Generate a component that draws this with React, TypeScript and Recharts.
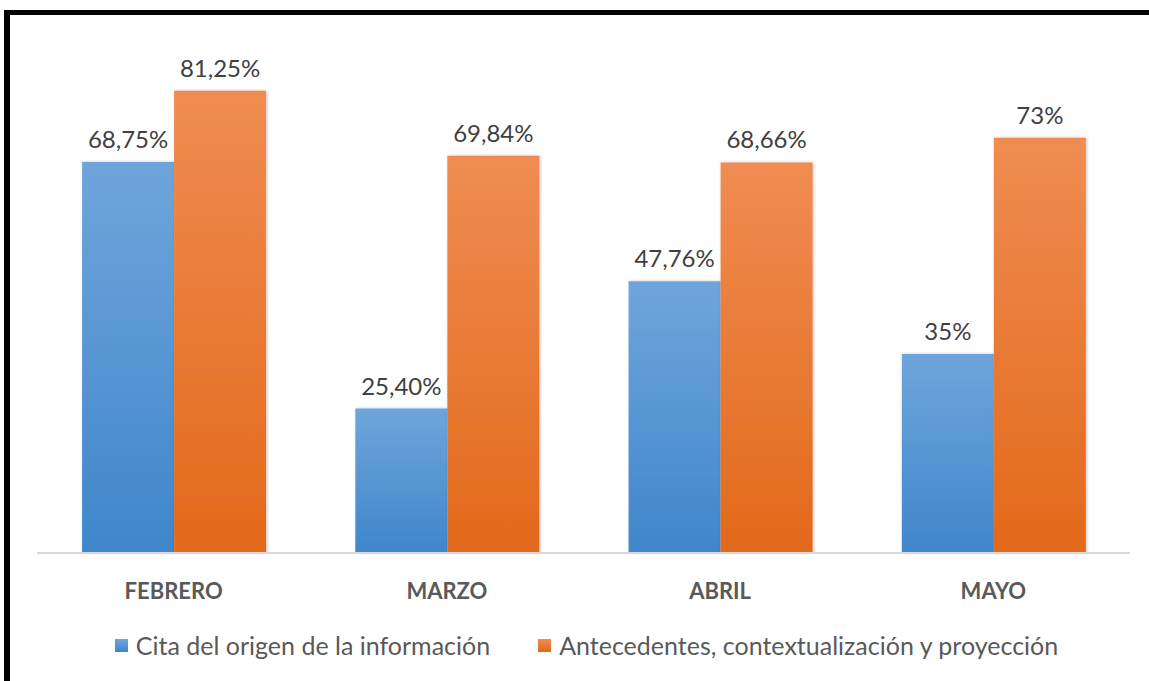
import React from 'react';
import { BarChart, Bar, XAxis, YAxis, LabelList } from 'recharts';

const months = ['FEBRERO', 'MARZO', 'ABRIL', 'MAYO'];
const citaValues = [68.75, 25.4, 47.76, 35];
const antecedentesValues = [81.25, 69.84, 68.66, 73];
const citaLabels = ['68,75%', '25,40%', '47,76%', '35%'];
const antecedentesLabels = ['81,25%', '69,84%', '68,66%', '73%'];
const seriesNames = ['Cita del origen de la información', 'Antecedentes, contextualización y proyección'];

const data = months.map((m, i) => ({
  month: m,
  cita: citaValues[i],
  antecedentes: antecedentesValues[i],
  citaLabel: citaLabels[i],
  antecedentesLabel: antecedentesLabels[i],
}));

const FONT = 'Lato, "Open Sans", sans-serif';

// Legend drawn as plain html below the chart
function ChartLegend() {
  const items = [
    { name: seriesNames[0], from: '#6fa5db', to: '#3f86cb' },
    { name: seriesNames[1], from: '#f08c52', to: '#e2691a' },
  ];
  return (
    <div style={{ display: 'flex', justifyContent: 'center', gap: 48, fontFamily: FONT, fontSize: 25, color: '#595959', lineHeight: '30px' }}>
      {items.map((it) => (
        <div key={it.name} style={{ display: 'flex', alignItems: 'center' }}>
          <span style={{ display: 'inline-block', width: 13, height: 13, marginRight: 8, background: `linear-gradient(${it.from}, ${it.to})` }} />
          <span>{it.name}</span>
        </div>
      ))}
    </div>
  );
}

export default function App() {
  return (
    <div style={{ position: 'fixed', left: 0, top: 0, width: 1149, height: 681, background: '#fff', overflow: 'hidden' }}>
      {/* frame, only top and left edges show */}
      <div style={{ position: 'absolute', left: 4, top: 10, width: 1200, height: 720, borderTop: '5px solid #000', borderLeft: '6px solid #000' }} />
      <div style={{ position: 'absolute', left: 0, top: 0 }}>
        <BarChart
          width={1149}
          height={681}
          data={data}
          margin={{ top: 41, right: 19, bottom: 68, left: 37 }}
          barCategoryGap="16.5%"
          barGap={0}
        >
          <defs>
            <linearGradient id="blueGrad" x1="0" y1="0" x2="0" y2="1">
              <stop offset="0%" stopColor="#6fa5db" />
              <stop offset="100%" stopColor="#3f86cb" />
            </linearGradient>
            <linearGradient id="orangeGrad" x1="0" y1="0" x2="0" y2="1">
              <stop offset="0%" stopColor="#f08c52" />
              <stop offset="100%" stopColor="#e2691a" />
            </linearGradient>
            <filter id="barShadow" x="-10%" y="-10%" width="120%" height="120%">
              <feDropShadow dx="1" dy="0" stdDeviation="1.5" floodColor="#000" floodOpacity="0.25" />
            </filter>
          </defs>
          <XAxis
            dataKey="month"
            axisLine={{ stroke: '#d9d9d9', strokeWidth: 2 }}
            tickLine={false}
            tick={{ fill: '#595959', fontSize: 22, fontWeight: 700, fontFamily: FONT }}
            dy={22}
            height={60}
          />
          <YAxis hide domain={[0, 90]} />
          <Bar dataKey="cita" name={seriesNames[0]} fill="url(#blueGrad)" filter="url(#barShadow)" isAnimationActive={false}>
            <LabelList dataKey="citaLabel" position="top" offset={14} fill="#404040" fontSize={24} fontFamily={FONT} />
          </Bar>
          <Bar dataKey="antecedentes" name={seriesNames[1]} fill="url(#orangeGrad)" filter="url(#barShadow)" isAnimationActive={false}>
            <LabelList dataKey="antecedentesLabel" position="top" offset={14} fill="#404040" fontSize={24} fontFamily={FONT} />
          </Bar>
        </BarChart>
      </div>
      <div style={{ position: 'absolute', left: 12, top: 630, width: 1149 }}>
        <ChartLegend />
      </div>
    </div>
  );
}
